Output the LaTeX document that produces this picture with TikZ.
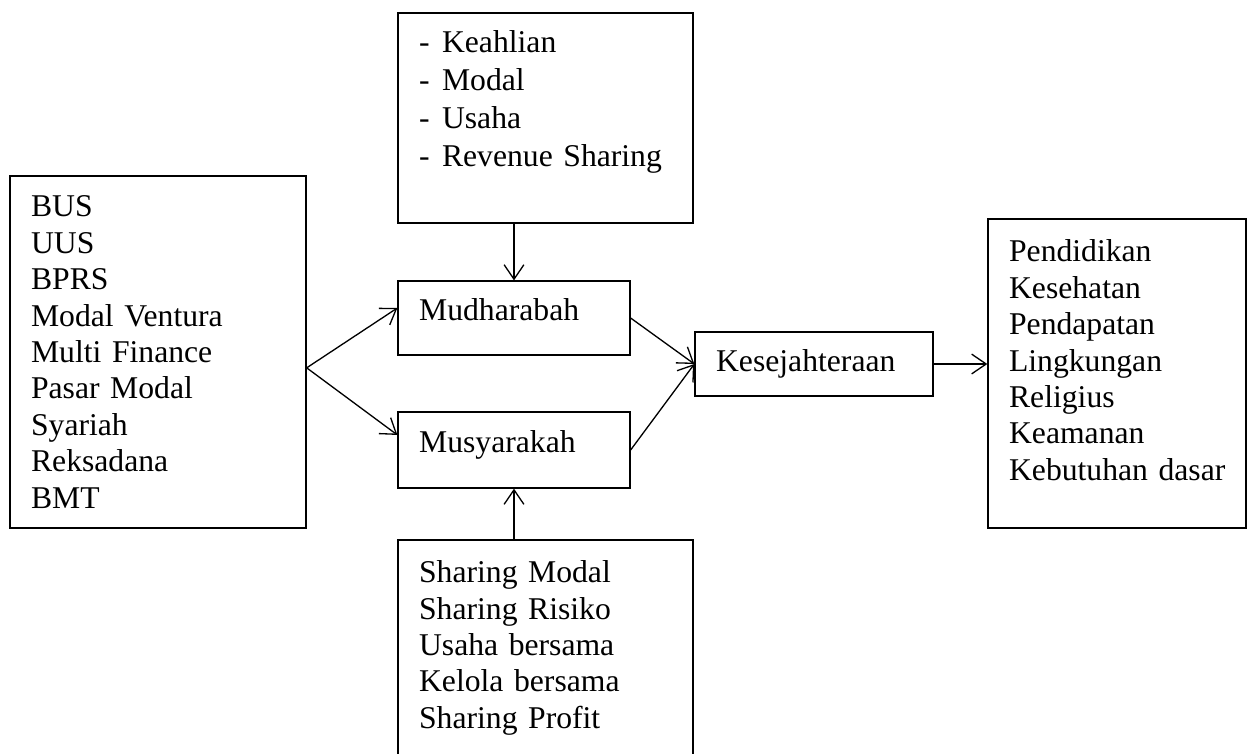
\documentclass[tikz,border=0pt]{standalone}
\usepackage{fontspec}
\setmainfont{Liberation Serif}
\usetikzlibrary{arrows.meta}
\newcommand{\strip}{\makebox[8.7pt][l]{-}}

\begin{document}
\begin{tikzpicture}[x=0.379pt,y=-0.379pt,line width=0.5pt,
    >={Straight Barb[length=5.5pt,width=7.5pt]},
    font=\fontsize{12}{13.8}\selectfont,
    kotak/.style={draw,inner sep=0pt,inner xsep=8pt,align=left,text width=#1}]
  \useasboundingbox (0,0) rectangle (1249,753);
  % kotak-kotak
  \node[kotak=95.8pt,minimum height=79.6pt,text depth=57.6pt,
        font=\fontsize{12}{14.4}\selectfont] (ciri) at (545.5,118)
    {\strip Keahlian\\ \strip Modal\\ \strip Usaha\\ \strip Revenue Sharing};
  \node[kotak=96.2pt,minimum height=133.4pt] (lembaga) at (158,352)
    {BUS\\ UUS\\ BPRS\\ Modal Ventura\\ Multi Finance\\ Pasar Modal\\ Syariah\\ Reksadana\\ BMT};
  \node[kotak=71.9pt,minimum height=28pt,text depth=6.5pt] (mudh) at (514,318) {Mudharabah};
  \node[kotak=71.9pt,minimum height=28.8pt,text depth=6.5pt] (musy) at (514,450) {Musyarakah};
  \node[kotak=74.2pt,minimum height=24.3pt] (kes) at (814,364) {Kesejahteraan};
  \node[kotak=81.8pt,minimum height=117.1pt,text depth=93pt] (indikator) at (1117,373.5)
    {Pendidikan\\ Kesehatan\\ Pendapatan\\ Lingkungan\\ Religius\\ Keamanan\\ Kebutuhan~dasar};
  \node[kotak=95.8pt,minimum height=81.9pt] (sharing) at (545.5,648)
    {Sharing Modal\\ Sharing Risiko\\ Usaha bersama\\ Kelola bersama\\ Sharing Profit};
  % panah
  \coordinate (cabang) at ([yshift=-6pt]lembaga.east);
  \draw[->] (cabang) -- ([yshift=3.8pt]mudh.west);
  \draw[->] (cabang) -- ([yshift=5.7pt]musy.west);
  \draw[->] (mudh.east) -- (kes.west);
  \draw[->] (musy.east) -- (kes.west);
  \draw[->] (kes.east) -- (kes.east -| indikator.west);
  \draw[->] (ciri.south -| mudh.north) -- (mudh.north);
  \draw[->] (sharing.north -| musy.south) -- (musy.south);
\end{tikzpicture}
\end{document}
